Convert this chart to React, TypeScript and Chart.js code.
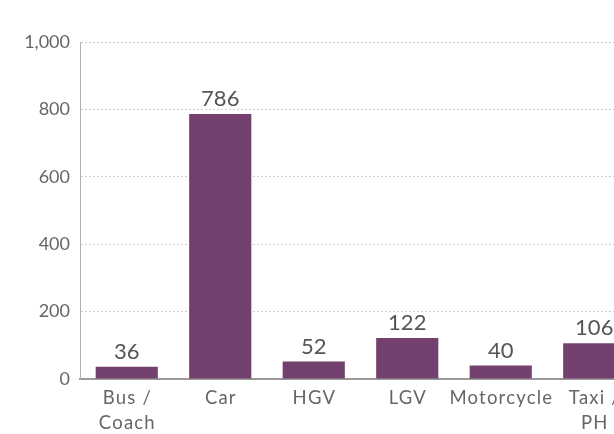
import React, { useEffect, useRef } from "react";
import { Chart, registerables } from "chart.js";

Chart.register(...registerables);

const categories: (string | string[])[] = [["Bus /", "Coach"], "Car", "HGV", "LGV", "Motorcycle", ["Taxi /", "PH"]];
const values: number[] = [36, 786, 52, 122, 40, 106];
const yTicks: number[] = [0, 200, 400, 600, 800, 1000];

const FONT = "Lato, sans-serif";
const TEXT = "#666666";
const BAR = "#74416f";

const valueLabels = {
  id: "valueLabels",
  afterDatasetsDraw(chart: any) {
    const ctx = chart.ctx;
    const meta = chart.getDatasetMeta(0);
    ctx.save();
    ctx.font = `22px ${FONT}`;
    ctx.fillStyle = "#555555";
    ctx.textAlign = "center";
    ctx.textBaseline = "bottom";
    meta.data.forEach((el: any, i: number) => {
      ctx.fillText(String(values[i]), el.x, el.y - 4);
    });
    ctx.restore();
  },
};

const categoryLabels = {
  id: "categoryLabels",
  afterDraw(chart: any) {
    const ctx = chart.ctx;
    const xs = chart.scales.x;
    const bottom = chart.chartArea.bottom;
    ctx.save();
    ctx.font = `18.5px ${FONT}`;
    (ctx as any).letterSpacing = "1.2px";
    ctx.fillStyle = TEXT;
    ctx.textAlign = "center";
    ctx.textBaseline = "middle";
    categories.forEach((c, i) => {
      const lines = Array.isArray(c) ? c : [c];
      const x = xs.getPixelForValue(i);
      lines.forEach((ln, j) => {
        ctx.fillText(ln, x + 0.6, bottom + 19 + j * 25);
      });
    });
    ctx.restore();
  },
};

export default function App() {
  const ref = useRef<HTMLCanvasElement | null>(null);
  useEffect(() => {
    if (!ref.current) return;
    const chart = new Chart(ref.current, {
      type: "bar",
      data: {
        labels: categories,
        datasets: [
          {
            data: values,
            backgroundColor: BAR,
            borderWidth: 0,
            categoryPercentage: 1,
            barPercentage: 0.665,
          },
        ],
      },
      options: {
        responsive: false,
        animation: false,
        layout: { padding: { top: 42, right: 4, left: 0, bottom: 0 } },
        plugins: { legend: { display: false }, tooltip: { enabled: false } },
        scales: {
          x: {
            grid: { display: false, drawTicks: false },
            border: { display: true, color: "#9a9a9a", width: 2 },
            ticks: { display: false },
            afterFit: (s: any) => { s.height = 55; },
          },
          y: {
            min: 0,
            max: 1000,
            afterBuildTicks: (s: any) => { s.ticks = yTicks.map((v) => ({ value: v })); },
            grid: { color: "#cccccc", drawTicks: false, lineWidth: 1 },
            border: { display: true, color: "#b0b0b0", width: 1, dash: [2, 2] },
            ticks: {
              color: TEXT,
              font: { family: FONT, size: 18 },
              padding: 10,
              callback: (v: any) => Number(v).toLocaleString("en-US"),
            },
            afterFit: (s: any) => { s.width = 80; },
          },
        },
      },
      plugins: [valueLabels, categoryLabels],
    });
    return () => chart.destroy();
  }, []);
  return (
    <div style={{ position: "fixed", left: 0, top: 0, width: 614, height: 434, overflow: "hidden", background: "#fff" }}>
      <canvas ref={ref} width={645} height={434} style={{ display: "block" }} />
    </div>
  );
}
